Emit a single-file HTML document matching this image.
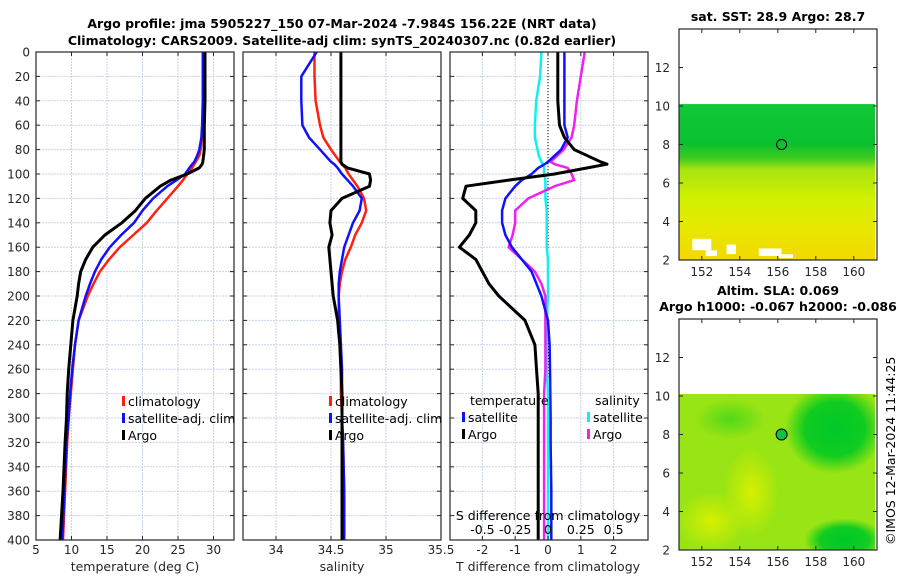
<!DOCTYPE html>
<html><head><meta charset="utf-8"><style>
body{margin:0;background:#fff;}
svg{display:block;font-family:"DejaVu Sans","Liberation Sans",sans-serif;}
</style></head><body>
<svg id="chart" width="900" height="580" viewBox="0 0 900 580">
<defs>
<linearGradient id="sstGrad" x1="0" y1="0" x2="0" y2="1">
<stop offset="0" stop-color="#10c838"/><stop offset="0.25" stop-color="#08c030"/><stop offset="0.35" stop-color="#40cc20"/><stop offset="0.42" stop-color="#a8e410"/><stop offset="0.6" stop-color="#d0f000"/><stop offset="0.8" stop-color="#e8e800"/><stop offset="1" stop-color="#f4d800"/>
</linearGradient>
<radialGradient id="g2dark"><stop offset="0" stop-color="#00c828"/><stop offset="0.6" stop-color="#10cc20"/><stop offset="1" stop-color="#10cc20" stop-opacity="0"/></radialGradient>
<radialGradient id="g2mid"><stop offset="0" stop-color="#50d818"/><stop offset="1" stop-color="#50d818" stop-opacity="0"/></radialGradient>
<radialGradient id="g2yel"><stop offset="0" stop-color="#d8f000"/><stop offset="1" stop-color="#d8f000" stop-opacity="0"/></radialGradient>
<clipPath id="clip1"><rect x="36" y="52" width="198" height="488"/></clipPath>
<clipPath id="clip2"><rect x="243" y="52" width="198" height="488"/></clipPath>
<clipPath id="clip3"><rect x="450" y="52" width="198" height="488"/></clipPath>
<clipPath id="clipm2"><rect x="679" y="394" width="196" height="156"/></clipPath>
</defs>
<g id="root"></g>
</svg>
<script>
// ---- data ----
const depths = [0,20,40,60,70,80,85,90,92,95,100,105,110,120,130,140,150,160,170,180,190,200,220,240,260,280,300,320,360,400];
const tempArgo = [28.8,28.8,28.8,28.7,28.7,28.7,28.6,28.5,28.4,28.0,26.3,24.0,22.5,20.4,19.0,17.1,14.7,13.0,12.0,11.3,11.0,10.8,10.2,9.9,9.6,9.4,9.3,9.1,8.8,8.4];
const tempClim = [28.6,28.6,28.5,28.5,28.4,28.2,28.0,27.5,27.3,27.0,26.3,25.7,25.0,23.5,22.0,20.6,18.7,16.8,15.3,14.0,13.1,12.3,11.0,10.5,10.2,9.9,9.6,9.4,9.1,8.8];
const tempSat  = [28.5,28.5,28.5,28.4,28.3,28.0,27.7,27.3,27.0,26.6,26.0,24.8,23.5,21.5,20.0,18.8,17.0,15.4,14.2,13.3,12.6,12.0,11.0,10.5,10.1,9.8,9.6,9.3,9.0,8.7];
const salArgo = [34.59,34.59,34.59,34.59,34.59,34.59,34.59,34.59,34.6,34.65,34.85,34.86,34.85,34.6,34.5,34.49,34.51,34.48,34.49,34.5,34.51,34.52,34.56,34.58,34.59,34.6,34.6,34.6,34.6,34.6];
const salClim = [34.35,34.35,34.36,34.4,34.43,34.5,34.54,34.58,34.6,34.63,34.66,34.7,34.74,34.8,34.82,34.78,34.72,34.68,34.63,34.6,34.58,34.57,34.57,34.58,34.59,34.59,34.6,34.61,34.62,34.62];
const salSat  = [34.37,34.23,34.23,34.24,34.3,34.4,34.45,34.5,34.53,34.56,34.6,34.65,34.7,34.78,34.76,34.7,34.66,34.62,34.6,34.58,34.57,34.57,34.58,34.59,34.6,34.6,34.6,34.61,34.62,34.62];
const dTArgo = [0.3,0.3,0.3,0.35,0.5,0.8,1.2,1.6,1.8,1.2,0.2,-1.2,-2.5,-2.6,-2.2,-2.2,-2.4,-2.7,-2.2,-2.0,-1.8,-1.5,-0.7,-0.4,-0.35,-0.3,-0.3,-0.3,-0.3,-0.3];
const dTSat  = [0.5,0.5,0.5,0.5,0.6,0.4,0.2,0.0,-0.1,-0.3,-0.5,-0.8,-1.0,-1.3,-1.4,-1.4,-1.3,-1.1,-0.8,-0.5,-0.35,-0.2,0.0,0.05,0.06,0.07,0.08,0.08,0.1,0.1];
const dSSat  = [-0.05,-0.06,-0.09,-0.1,-0.1,-0.08,-0.07,-0.05,-0.04,-0.03,-0.03,-0.02,-0.02,-0.02,-0.01,-0.01,-0.01,-0.01,0,0,0,0,-0.01,-0.01,-0.01,0,0,0,0,0];
const dSArgo = [0.28,0.25,0.22,0.2,0.18,0.12,0.07,0.02,0.05,0.15,0.18,0.2,0.05,-0.15,-0.25,-0.25,-0.27,-0.3,-0.2,-0.1,-0.05,-0.02,-0.02,-0.02,-0.02,-0.03,-0.03,-0.03,-0.03,-0.03];
const depthTicks = [0,20,40,60,80,100,120,140,160,180,200,220,240,260,280,300,320,340,360,380,400];
const tempTicks = [5,10,15,20,25,30];
const salTicks = [34,34.5,35,35.5];
const dTTicks = [-2,-1,0,1,2];
const dSTicks = [-0.5,-0.25,0,0.25,0.5];
const dSTickLabels = ["-0.5","-0.25","0","0.25","0.5"];
const lonTicks = [152,154,156,158,160];
const latTicks = [2,4,6,8,10,12];
const argoPos = [156.2, 8.0];

// ---- helpers ----
const NS="http://www.w3.org/2000/svg";
const root=document.getElementById('root');
function mk(tag,attrs,parent){const e=document.createElementNS(NS,tag);for(const k in attrs)e.setAttribute(k,attrs[k]);(parent||root).appendChild(e);return e;}
const Y=d=>52+d*(488/400);
const X1=t=>36+(t-5)*7.1;
const X2=s=>243+(s-33.7)*110;
const X3=t=>548+t*32.8;
const X3s=s=>548+s*131.2;
const TXT='#262626';
const FS=12;

function panelFrame(x0,name){
  const g=mk('g',{});
  
  
  depthTicks.forEach(d=>{mk('line',{x1:x0,x2:x0+198,y1:Y(d),y2:Y(d),stroke:'#c8d2ea','stroke-width':1,'stroke-dasharray':'2,1'},g);});
  return g;
}
function vgrid(g,vals,X){vals.forEach(v=>{mk('line',{x1:X(v),x2:X(v),y1:52,y2:540,stroke:'#c8d2ea','stroke-width':1,'stroke-dasharray':'2,1'},g);});}
function box(g,x0){
  mk('rect',{x:x0,y:52,width:198,height:488,fill:'none',stroke:'#262626','stroke-width':1.2},g);
  depthTicks.forEach(d=>{mk('line',{x1:x0,x2:x0+4,y1:Y(d),y2:Y(d),stroke:'#262626'},g);mk('line',{x1:x0+194,x2:x0+198,y1:Y(d),y2:Y(d),stroke:'#262626'},g);});
}
function xticks(g,vals,X,labels){
  vals.forEach((v,i)=>{const x=X(v);mk('line',{x1:x,x2:x,y1:536,y2:540,stroke:'#262626'},g);mk('line',{x1:x,x2:x,y1:52,y2:56,stroke:'#262626'},g);
    const t=mk('text',{x:x,y:554,'text-anchor':'middle','font-size':FS,fill:TXT},g);t.textContent=labels?labels[i]:String(v);});
}
function series(g,xs,X,color,w,name,clip){
  let d='';xs.forEach((v,i)=>{d+=(i?'L':'M')+X(v).toFixed(1)+','+Y(depths[i]).toFixed(1);});
  const p=mk('path',{d:d,fill:'none',stroke:color,'stroke-width':w,'stroke-linejoin':'round','clip-path':'url(#'+clip+')'},g);
  
  
}
function legendEntry(g,x,y,color,label,name){
  const e=mk('g',{},g);
  
  
  mk('rect',{x:x,y:y-10,width:3,height:10,fill:color},e);
  const t=mk('text',{x:x+6,y:y,'font-size':12.5,fill:'#000'},e);t.textContent=label;
}

// ---- panel 1 ----
let g1=panelFrame(36,'temperature-panel');
vgrid(g1,tempTicks,X1);
series(g1,tempClim,X1,'#ff2010',2.5,'temp-climatology-line','clip1');
series(g1,tempSat,X1,'#1010ff',2.5,'temp-satellite-line','clip1');
series(g1,tempArgo,X1,'#000',3,'temp-argo-line','clip1');
box(g1,36);xticks(g1,tempTicks,X1);
depthTicks.forEach(d=>{const t=mk('text',{x:30,y:Y(d)+4.5,'text-anchor':'end','font-size':FS,fill:TXT},g1);t.textContent=d;});
let tl=mk('text',{x:135,y:571,'text-anchor':'middle','font-size':12.5,fill:TXT},g1);tl.textContent='temperature (deg C)';

legendEntry(g1,122,406,'#ff2010','climatology','legend-climatology');
legendEntry(g1,122,423,'#1010ff','satellite-adj. clim','legend-satellite-adj');
legendEntry(g1,122,440,'#000','Argo','legend-argo');

// ---- panel 2 ----
let g2=panelFrame(243,'salinity-panel');
vgrid(g2,salTicks,X2);
series(g2,salClim,X2,'#ff2010',2.5,'sal-climatology-line','clip2');
series(g2,salSat,X2,'#1010ff',2.5,'sal-satellite-line','clip2');
series(g2,salArgo,X2,'#000',3,'sal-argo-line','clip2');
box(g2,243);xticks(g2,salTicks,X2);
let sl=mk('text',{x:342,y:571,'text-anchor':'middle','font-size':12.5,fill:TXT},g2);sl.textContent='salinity';

legendEntry(g2,329,406,'#ff2010','climatology','legend-climatology-2');
legendEntry(g2,329,423,'#1010ff','satellite-adj. clim','legend-satellite-adj-2');
legendEntry(g2,329,440,'#000','Argo','legend-argo-2');

// ---- panel 3 ----
let g3=panelFrame(450,'difference-panel');
vgrid(g3,dTTicks,X3);
mk('line',{x1:X3(0),x2:X3(0),y1:52,y2:540,stroke:'#000','stroke-width':1,'stroke-dasharray':'1,2'},g3);
series(g3,dSSat,X3s,'#10f0f0',2.5,'sal-diff-satellite-line','clip3');
series(g3,dSArgo,X3s,'#f020f0',2.5,'sal-diff-argo-line','clip3');
series(g3,dTSat,X3,'#1010ff',2.5,'temp-diff-satellite-line','clip3');
series(g3,dTArgo,X3,'#000',3,'temp-diff-argo-line','clip3');
box(g3,450);xticks(g3,dTTicks,X3);
let t3=mk('text',{x:548,y:571,'text-anchor':'middle','font-size':12.5,fill:TXT},g3);t3.textContent='T difference from climatology';

let s3=mk('text',{x:548,y:520,'text-anchor':'middle','font-size':12.5,fill:'#000'},g3);s3.textContent='S difference from climatology';

dSTicks.forEach((v,i)=>{const t=mk('text',{x:X3s(v),y:534,'text-anchor':'middle','font-size':12.5,fill:'#000'},g3);t.textContent=dSTickLabels[i];});
let lt=mk('text',{x:470,y:405,'font-size':12.5,fill:'#000'},g3);lt.textContent='temperature';
let ls=mk('text',{x:595,y:405,'font-size':12.5,fill:'#000'},g3);ls.textContent='salinity';
legendEntry(g3,462,422,'#1010ff','satellite','legend-temp-satellite');
legendEntry(g3,462,439,'#000','Argo','legend-temp-argo');
legendEntry(g3,587,422,'#10f0f0','satellite','legend-sal-satellite');
legendEntry(g3,587,439,'#f020f0','Argo','legend-sal-argo');

// ---- titles ----
let tt=mk('text',{x:342,y:28,'text-anchor':'middle','font-size':12.5,'font-weight':'bold',fill:'#000'});tt.textContent='Argo profile: jma 5905227_150 07-Mar-2024 -7.984S 156.22E (NRT data)';

let tt2=mk('text',{x:342,y:45,'text-anchor':'middle','font-size':12.5,'font-weight':'bold',fill:'#000'});tt2.textContent='Climatology: CARS2009. Satellite-adj clim: synTS_20240307.nc (0.82d earlier)';


// ---- maps ----
function mapPanel(top,bottom,name,fillFn,titles){
  const g=mk('g',{});
  
  
  const MY=v=>bottom-(v-2)*((bottom-top)/12);
  const MX=v=>679+(v-150.8)*19;
  fillFn(g,MX,MY);
  mk('rect',{x:679,y:top,width:198,height:bottom-top,fill:'none',stroke:'#262626','stroke-width':1.2},g);
  latTicks.forEach(v=>{const y=MY(v);mk('line',{x1:679,x2:683,y1:y,y2:y,stroke:'#262626'},g);mk('line',{x1:873,x2:877,y1:y,y2:y,stroke:'#262626'},g);
    const t=mk('text',{x:670,y:y+4.5,'text-anchor':'end','font-size':FS,fill:TXT},g);t.textContent=v;});
  lonTicks.forEach(v=>{const x=MX(v);mk('line',{x1:x,x2:x,y1:bottom-4,y2:bottom,stroke:'#262626'},g);mk('line',{x1:x,x2:x,y1:top,y2:top+4,stroke:'#262626'},g);
    const t=mk('text',{x:x,y:bottom+16,'text-anchor':'middle','font-size':FS,fill:TXT},g);t.textContent=v;});
  titles.forEach((s,i)=>{const t=mk('text',{x:778,y:top-8-(titles.length-1-i)*16,'text-anchor':'middle','font-size':12.5,'font-weight':'bold',fill:'#000'},g);t.textContent=s;});
  return {g,MX,MY};
}
const m1=mapPanel(29,260,'sst-map',(g,MX,MY)=>{
  mk('rect',{x:679,y:MY(10.1),width:196,height:260-MY(10.1),fill:'url(#sstGrad)'},g);
  [[151.5,2.5,1,0.6],[152.2,2.2,0.6,0.3],[153.3,2.3,0.5,0.5],[155,2.2,1.2,0.4],[156,2.1,0.8,0.2]].forEach(r=>mk('rect',{x:MX(r[0]),y:MY(r[1]+r[3]),width:r[2]*19,height:r[3]*19,fill:'#fff'},g));
  mk('circle',{cx:MX(argoPos[0]),cy:MY(argoPos[1]),r:5,fill:'none',stroke:'#000'},g);
},['sat. SST: 28.9 Argo: 28.7']);
const m2=mapPanel(319,550,'sla-map',(g,MX,MY)=>{
  const cg=mk('g',{'clip-path':'url(#clipm2)'},g);
  mk('rect',{x:679,y:394,width:196,height:156,fill:'#98e414'},cg);
  mk('ellipse',{cx:MX(154.6),cy:MY(5),rx:28,ry:45,fill:'url(#g2yel)'},cg);
  mk('ellipse',{cx:MX(152.5),cy:MY(3.5),rx:35,ry:30,fill:'url(#g2yel)'},cg);
  mk('ellipse',{cx:MX(153.5),cy:MY(8.8),rx:35,ry:20,fill:'url(#g2mid)'},cg);
  mk('ellipse',{cx:MX(159),cy:MY(8.3),rx:50,ry:45,fill:'url(#g2dark)'},cg);
  mk('ellipse',{cx:MX(159.5),cy:MY(2.5),rx:40,ry:22,fill:'url(#g2dark)'},cg);
  mk('circle',{cx:MX(argoPos[0]),cy:MY(argoPos[1]),r:5.5,fill:'#10c040',stroke:'#000'},g);
},['Altim. SLA: 0.069','Argo h1000: -0.067 h2000: -0.086']);

let cp=mk('text',{x:0,y:0,'font-size':12.5,fill:'#000',transform:'translate(895,545) rotate(-90)'});cp.textContent='©IMOS 12-Mar-2024 11:44:25';

</script>
</body></html>
